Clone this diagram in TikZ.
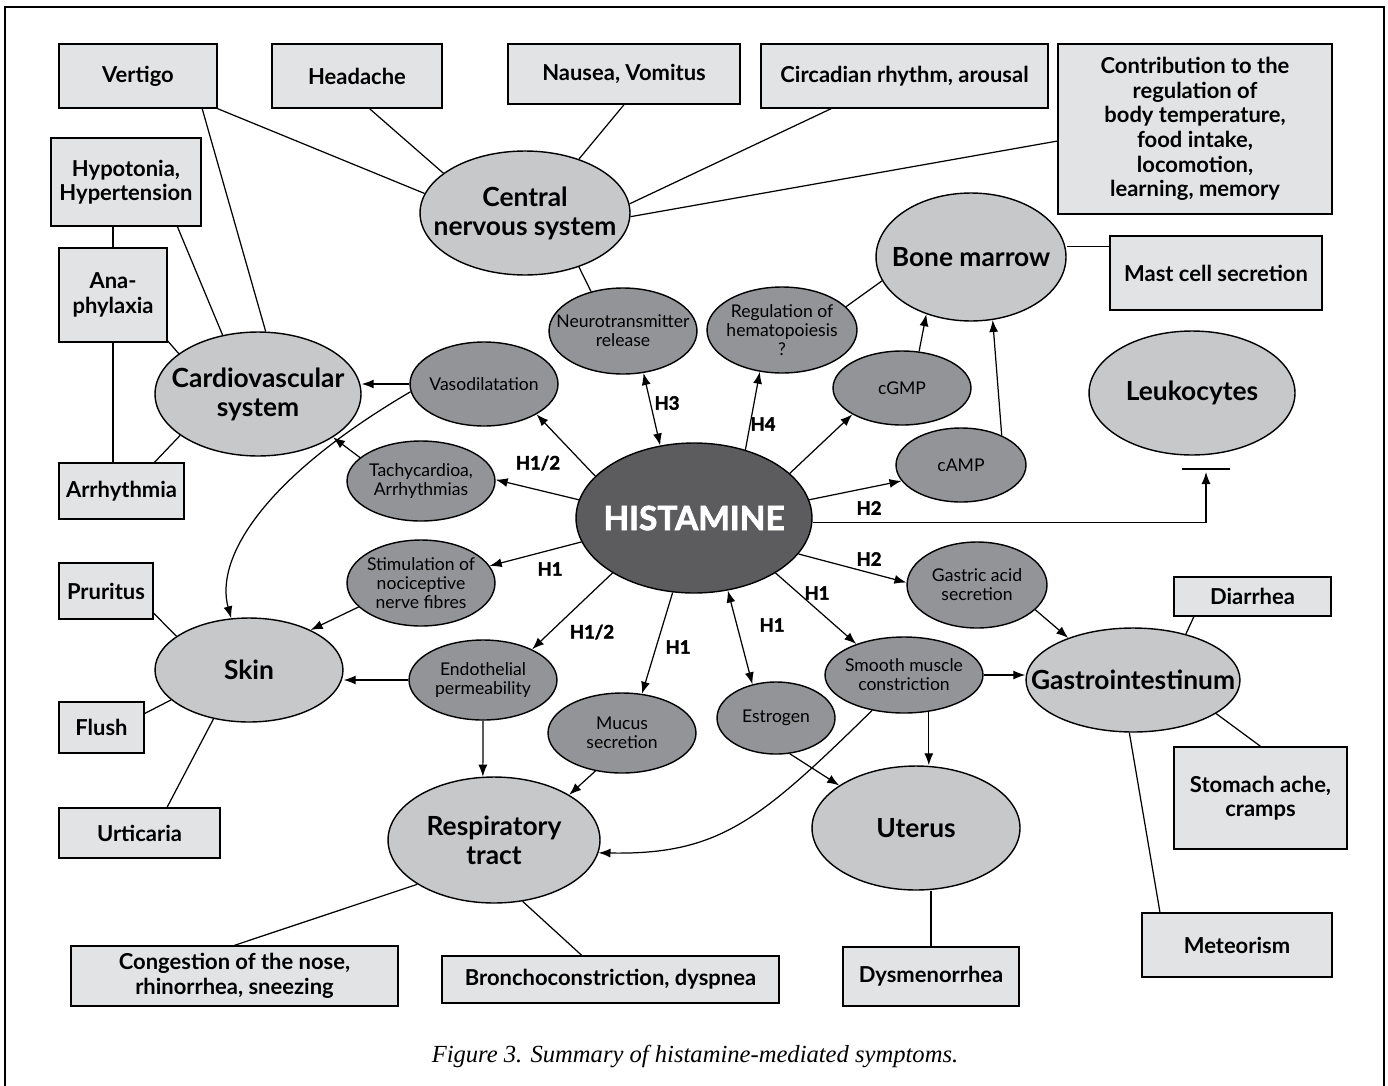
\documentclass[tikz,border=0pt]{standalone}
\usepackage{fontspec}
\setmainfont{Lato}
\newfontfamily\heavyfont{Lato}[FakeBold=2.2]
\newfontfamily\capfont{Liberation Serif}
\usetikzlibrary{shapes.geometric,arrows.meta}
\definecolor{boxfill}{RGB}{226,227,228}
\definecolor{lightell}{RGB}{199,200,202}
\definecolor{darkell}{RGB}{147,148,151}
\definecolor{histfill}{RGB}{92,92,94}
\begin{document}
\begin{tikzpicture}[x=0.02cm,y=-0.02cm,
  box/.style={draw, fill=boxfill, line width=0.8pt, align=center, inner sep=0pt, font=\fontsize{12.5}{14}\selectfont\bfseries},
  ell/.style={ellipse, draw, line width=0.8pt, inner sep=0pt},
  bigtext/.style={align=center, inner sep=0pt, font=\fontsize{15}{16.5}\selectfont\bfseries},
  smalltext/.style={align=center, inner sep=0pt, font=\fontsize{10}{10.8}\selectfont},
  big/.style={ell, fill=lightell, label={[bigtext]center:#1}},
  small/.style={ell, fill=darkell, label={[smalltext]center:#1}},
  hl/.style={font=\heavyfont\bfseries\fontsize{10.5}{12}\selectfont},
  arr/.style={-{Latex[length=2.4mm,width=1.8mm]}, line width=0.7pt},
  darr/.style={{Latex[length=2.4mm,width=1.8mm]}-{Latex[length=2.4mm,width=1.8mm]}, line width=0.7pt},
  ln/.style={line width=0.7pt}]
\useasboundingbox (0,0) rectangle (1388,1085);
\draw[line width=1.2pt] (5,1090) -- (5,7) -- (1384,7) -- (1384,1090);

% boxes
\node[box, minimum width=3.16cm, minimum height=1.28cm] (vertigo) at (138,76) {Vertigo};
\node[box, minimum width=3.4cm, minimum height=1.28cm] (headache) at (357,76) {Headache};
\node[box, minimum width=4.64cm, minimum height=1.2cm] (nausea) at (624,74) {Nausea, Vomitus};
\node[box, minimum width=5.74cm, minimum height=1.28cm] (circ) at (904.5,76) {Circadian rhythm, arousal};
\node[box, minimum width=5.48cm, minimum height=3.4cm] (contrib) at (1195,129) {Contribution to the\\regulation of\\body temperature,\\food intake,\\locomotion,\\learning, memory};
\node[box, minimum width=4.24cm, minimum height=1.48cm] (mast) at (1216,273) {Mast cell secretion};
\node[box, minimum width=3.0cm, minimum height=1.76cm] (hyp) at (126,182) {Hypotonia,\\Hypertension};
\node[box, minimum width=2.16cm, minimum height=1.88cm] (ana) at (113,295) {Ana-\\phylaxia};
\node[box, minimum width=2.5cm, minimum height=1.12cm] (arr) at (121.5,491) {Arrhythmia};
\node[box, minimum width=1.88cm, minimum height=1.12cm] (prur) at (106,591) {Pruritus};
\node[box, minimum width=1.7cm, minimum height=1.02cm] (flush) at (101.5,727.5) {Flush};
\node[box, minimum width=3.22cm, minimum height=1.0cm] (urt) at (139.5,833) {Urticaria};
\node[box, minimum width=3.14cm, minimum height=0.78cm] (diar) at (1252.5,596.5) {Diarrhea};
\node[box, minimum width=3.46cm, minimum height=2.04cm] (stom) at (1260.5,798) {Stomach ache,\\cramps};
\node[box, minimum width=3.8cm, minimum height=1.28cm] (met) at (1237,945) {Meteorism};
\node[box, minimum width=3.52cm, minimum height=1.18cm] (dys) at (931,976.5) {Dysmenorrhea};
\node[box, minimum width=6.54cm, minimum height=1.2cm] (cong) at (234.5,976) {Congestion of the nose,\\rhinorrhea, sneezing};
\node[box, minimum width=6.74cm, minimum height=0.94cm] (bronch) at (610.5,979.5) {Bronchoconstriction, dyspnea};

% large ellipses
\node[big={Central\\nervous system}, minimum width=4.2cm, minimum height=2.48cm] (cns) at (525,213) {};
\node[big={Bone marrow}, minimum width=3.8cm, minimum height=2.56cm] (bm) at (971,257) {};
\node[big={Cardiovascular\\system}, minimum width=4.12cm, minimum height=2.48cm] (cv) at (258,394) {};
\node[big={Leukocytes}, minimum width=4.12cm, minimum height=2.48cm] (leuko) at (1192,393) {};
\node[big={Skin}, minimum width=3.76cm, minimum height=2.08cm] (skin) at (249,670) {};
\node[big={Gastrointestinum}, minimum width=4.28cm, minimum height=2.08cm] (gi) at (1133,680) {};
\node[big={Respiratory\\tract}, minimum width=4.24cm, minimum height=2.52cm] (resp) at (494,840) {};
\node[big={Uterus}, minimum width=4.16cm, minimum height=2.48cm] (uterus) at (916,828) {};

% small ellipses
\node[small={Vasodilatation}, minimum width=2.96cm, minimum height=1.68cm] (vaso) at (484,384) {};
\node[small={Neurotransmitter\\release}, minimum width=2.96cm, minimum height=1.72cm] (neuro) at (623,331) {};
\node[small={Regulation of\\hematopoiesis\\?}, minimum width=3.0cm, minimum height=1.72cm] (regul) at (782,330) {};
\node[small={cGMP}, minimum width=2.76cm, minimum height=1.48cm] (cgmp) at (902,388) {};
\node[small={cAMP}, minimum width=2.6cm, minimum height=1.48cm] (camp) at (961,465) {};
\node[small={Tachycardioa,\\Arrhythmias}, minimum width=2.96cm, minimum height=1.6cm] (tachy) at (421,481) {};
\node[small={Stimulation of\\nociceptive\\nerve fibres}, minimum width=2.96cm, minimum height=1.72cm] (stim) at (421,583) {};
\node[small={Gastric acid\\secretion}, minimum width=2.8cm, minimum height=1.72cm] (gastric) at (977,585) {};
\node[small={Endothelial\\permeability}, minimum width=2.96cm, minimum height=1.6cm] (endo) at (483,680) {};
\node[small={Mucus\\secretion}, minimum width=2.96cm, minimum height=1.6cm] (mucus) at (622,733) {};
\node[small={Estrogen}, minimum width=2.36cm, minimum height=1.44cm] (estro) at (776,718) {};
\node[small={Smooth muscle\\constriction}, minimum width=3.16cm, minimum height=1.52cm] (smooth) at (904,675) {};

\node[ell, fill=histfill, minimum width=4.72cm, minimum height=3.0cm, label={[text=white, inner sep=0pt, font=\heavyfont\bfseries\fontsize{19}{20}\selectfont]center:HISTAMINE}] (hist) at (694,518) {};

% CNS connections
\draw[ln] (vertigo.south east) -- (cns.169);
\draw[ln] (headache.-69) -- (cns.154);
\draw[ln] (nausea.south) -- (cns.45);
\draw[ln] (circ.204.7) -- (cns.5);
\draw[ln] (contrib.185) -- (cns.-2);
\draw[ln] (cns.-45) -- (neuro.129);

% cardiovascular connections
\draw[ln] (vertigo.-27) -- (cv.83);
\draw[ln] (hyp.-41) -- (cv.121);
\draw[ln] (ana.north |- hyp.south) -- (ana.north);
\draw[ln] (ana.-40) -- (cv.153);
\draw[ln] (ana.south) -- (ana.south |- arr.north);
\draw[ln] (arr.41) -- (cv.208);
\draw[arr] (vaso.west) -- (vaso.west -| cv.east);
\draw[arr] (tachy.159) -- (cv.-30);
\draw[arr] (vaso.186) .. controls (260,480) and (215,560) .. (skin.109);

% skin
\draw[ln] (prur.-25) -- (skin.155);
\draw[ln] (flush.18) -- (skin.201);
\draw[ln] (skin.234) -- (urt.43);
\draw[arr] (stim.201) -- (skin.33);
\draw[arr] (endo.west) -- (endo.west -| skin.east);

% respiratory
\draw[arr] (endo.south) -- (resp.100);
\draw[arr] (mucus.235) -- (resp.31);
\draw[arr] (smooth.228) .. controls (760,820) and (720,855) .. (resp.-7);
\draw[ln] (resp.210) -- (cong.north);
\draw[ln] (resp.-65) -- (bronch.140);

% histamine arrows
\draw[darr] (neuro.-64) -- (hist.115);
\draw[arr] (hist.157) -- (vaso.-30);
\draw[arr] (hist.171) -- (tachy.1);
\draw[arr] (hist.192) -- (stim.14);
\draw[arr] (hist.214.5) -- (endo.32);
\draw[arr] (hist.254.5) -- (mucus.63);
\draw[arr] (hist.53) -- (regul.242);
\draw[arr] (hist.25.8) -- (cgmp.208);
\draw[arr] (hist.9.5) -- (camp.195);
\draw[arr] (hist.-19) -- (gastric.178);
\draw[arr] (hist.-34) -- (smooth.147);
\draw[darr] (hist.-65) -- (estro.125);

% bone marrow
\draw[ln] (regul.20) -- (bm.195);
\draw[arr] (cgmp.65) -- (bm.232);
\draw[arr] (camp.36) -- (bm.-71);
\draw[ln] (mast.166) -- (mast.166 -| bm.east);

% leukocytes inhibition
\coordinate (inh) at (1206,469);
\draw[line width=1.2pt] ([xshift=-0.48cm]inh) -- ([xshift=0.48cm]inh);
\draw[arr] (hist.-2) -| ([yshift=-0.06cm]inh);

% GI and uterus
\draw[arr] (gastric.-23) -- (gi.147);
\draw[arr] (smooth.east) -- (smooth.east -| gi.west);
\draw[ln] (diar.199) -- (gi.41);
\draw[ln] (gi.-22) -- (stom.north);
\draw[ln] (gi.266) -- (met.157);
\draw[arr] (estro.-69) -- (uterus.151);
\draw[arr] (smooth.-56) -- (smooth.-56 |- uterus.north);
\draw[ln] (dys.north) -- (dys.north |- uterus.south);

% labels
\node[hl] (l1) at (667,403) {H3};
\node[hl] (l2) at (763,424) {H4};
\node[hl] (l3) at (538,463) {H1/2};
\node[hl] (l4) at (550,569) {H1};
\node[hl] (l5) at (592,632) {H1/2};
\node[hl] (l6) at (678,647) {H1};
\node[hl] (l7) at (772,625) {H1};
\node[hl] (l8) at (817,593) {H1};
\node[hl] (l9) at (869,559) {H2};
\node[hl] (l10) at (869,508) {H2};

\node[font=\capfont\itshape\fontsize{14}{16}\selectfont] (cap) at (695,1056) {Figure 3. Summary of histamine-mediated symptoms.};
\end{tikzpicture}
\end{document}
